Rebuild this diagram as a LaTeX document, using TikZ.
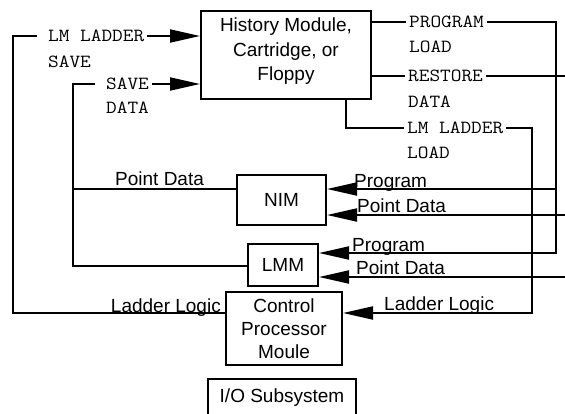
\documentclass[tikz,border=0pt]{standalone}
\usepackage{fontspec}
\setmainfont{Liberation Sans}
\newfontfamily\twfont{Latin Modern Mono}[FakeStretch=1.12]
\usetikzlibrary{arrows.meta}
\begin{document}
\begin{tikzpicture}[x=1pt,y=-1pt,
  box/.style={draw, line width=2pt, inner sep=0pt, font=\fontsize{19}{24.5}\selectfont, align=center},
  lbl/.style={inner sep=0pt, font=\fontsize{19}{23}\selectfont},
  tw/.style={inner xsep=3pt, inner ysep=0pt, text height=11pt, text depth=0pt, font=\twfont\fontsize{18.5}{22}\selectfont, anchor=west},
  wire/.style={line width=2pt},
  arr/.style={wire, -{Triangle[length=30pt,width=13pt]}}]
\useasboundingbox (0,0) rectangle (565,413);
\clip (0,0) rectangle (565,413);

% boxes
\node[box, minimum width=170pt, minimum height=88pt, text depth=11pt] (hist) at (286,55) {History Module,\\Cartridge, or\\Floppy};
\node[box, minimum width=89pt, minimum height=50pt] (nim) at (281.5,200) {NIM};
\node[box, minimum width=70pt, minimum height=42pt] (lmm) at (283,265) {LMM};
\node[box, minimum width=116pt, minimum height=73pt, font=\fontsize{19}{23}\selectfont] (cpm) at (284,328.5) {Control\\Processor\\Moule};
\node[box, minimum width=148pt, minimum height=37pt] (io) at (282,397.5) {I/O Subsystem};

% typewriter labels
\node[tw] (lls1) at (45,36) {LM LADDER};
\node[tw] (lls2) at (45,62) {SAVE};
\node[tw] (sd1) at (103,84) {SAVE};
\node[tw] (sd2) at (103,108) {DATA};
\node[tw] (pl1) at (406,22) {PROGRAM};
\node[tw] (pl2) at (406,47) {LOAD};
\node[tw] (rd1) at (405,76) {RESTORE};
\node[tw] (rd2) at (405,102) {DATA};
\node[tw] (ll1) at (404,128) {LM LADDER};
\node[tw] (ll2) at (404,153) {LOAD};

% sans labels
\node[lbl, anchor=base west] (pdl) at (115,185) {Point Data};
\node[lbl, anchor=base east] (lgl) at (221,312) {Ladder Logic};
\node[lbl, anchor=base west] (pgn) at (354,187) {Program};
\node[lbl, anchor=base west] (pdn) at (357,212) {Point Data};
\node[lbl, anchor=base west] (pgm) at (352,251) {Program};
\node[lbl, anchor=base west] (pdm) at (356,274) {Point Data};
\node[lbl, anchor=base west] (lgr) at (384,310) {Ladder Logic};

% LM LADDER SAVE
\coordinate (a1) at (37,36); \coordinate (a2) at (13,36); \coordinate (a3) at (13,313);
\draw[wire] (a1) -- (a2) -- (a3) -- (a3 -| cpm.west);
\draw[arr] (lls1.east) -- (lls1.east -| hist.west);

% SAVE DATA
\coordinate (b1) at (95,84); \coordinate (b2) at (73,84); \coordinate (b3) at (73,266); \coordinate (b4) at (73,189);
\draw[wire] (b1) -- (b2) -- (b3) -- (b3 -| lmm.west);
\draw[wire] (b4) -- (b4 -| nim.west);
\draw[arr] (sd1.east) -- (sd1.east -| hist.west);

% PROGRAM LOAD
\draw[wire] (pl1.west -| hist.east) -- (pl1.west);
\coordinate (p1) at (556,253); \coordinate (p2) at (556,189);
\draw[arr] (pl1.east) -- (pl1.east -| p1) -- (p1) -- (p1 -| lmm.east);
\draw[arr] (p2) -- (p2 -| nim.east);

% RESTORE DATA
\draw[wire] (rd1.west -| hist.east) -- (rd1.west);
\coordinate (e1) at (567,76);
\draw[wire] (rd1.east) -- (e1);
\coordinate (e2) at (567,215); \coordinate (e3) at (567,277);
\draw[arr] (e2) -- (e2 -| nim.east);
\draw[arr] (e3) -- (e3 -| lmm.east);

% LM LADDER LOAD
\coordinate (h1) at (346,128); \coordinate (r1) at (532,313);
\draw[wire] (h1 |- hist.south) -- (h1) -- (ll1.west);
\draw[arr] (ll1.east) -- (ll1.east -| r1) -- (r1) -- (r1 -| cpm.east);
\end{tikzpicture}
\end{document}
